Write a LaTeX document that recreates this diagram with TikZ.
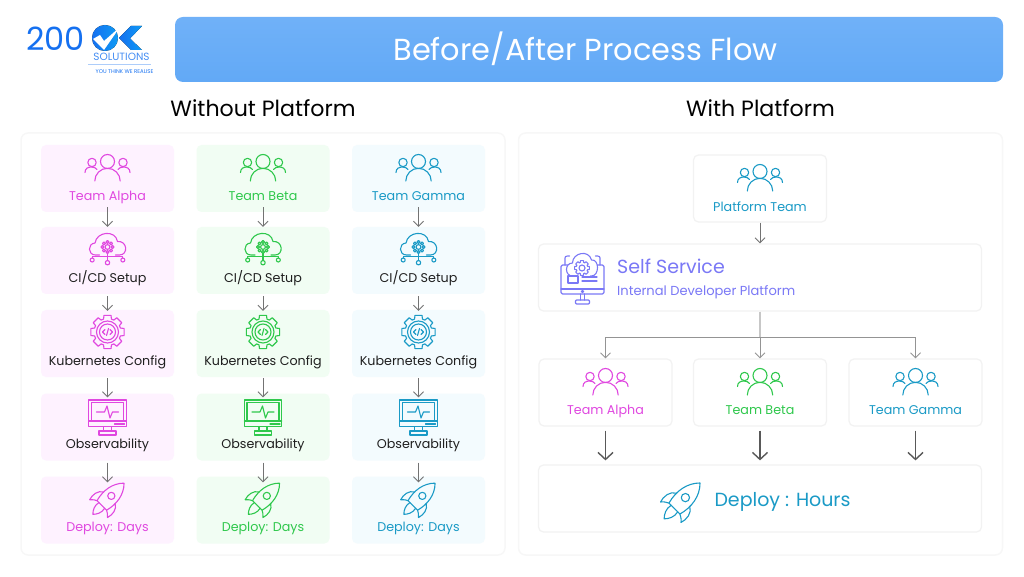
\documentclass[tikz,border=0pt]{standalone}
\usepackage{fontspec}
\setmainfont{Poppins}
\usetikzlibrary{calc, arrows.meta}
\definecolor{alphaclr}{HTML}{E048E0}
\definecolor{betaclr}{HTML}{2FC84C}
\definecolor{gammaclr}{HTML}{1A9AC6}
\definecolor{selfclr}{HTML}{7A78F6}
\definecolor{alphabg}{HTML}{FEF2FF}
\definecolor{betabg}{HTML}{F1FDF3}
\definecolor{gammabg}{HTML}{F3FBFE}
\definecolor{logoclr}{HTML}{1570F0}
\definecolor{headtop}{HTML}{70B1F8}
\definecolor{headbot}{HTML}{62A9F6}
\tikzset{
    panel/.style={draw=black!3, line width=1.5pt, fill=white, rounded corners=7pt, minimum width=484pt, minimum height=422pt},
    stepbox/.style={rounded corners=5pt, minimum width=133pt, minimum height=67pt},
    whitebox/.style={stepbox, draw=black!5, line width=1.2pt, fill=white},
    lbl/.style={font=\fontsize{12.7}{15}\selectfont, inner sep=0pt, text height=9pt, text depth=3pt},
    flow/.style={draw=black!55, line width=0.9pt, -{Straight Barb[length=5pt,width=10pt]}},
    fork/.style={draw=black!42},
    bigflow/.style={draw=black!65, line width=1.4pt, shorten <=4pt, shorten >=4pt, -{Straight Barb[length=7pt,width=15pt]}},
    icon/.style={line width=1.1pt, line join=round, line cap=round},
    pics/peopleicon/.style={code={
        \draw[icon, pic actions] (0,17) circle (7);
        \draw[icon, pic actions] (-12.7,-2.5) arc (180:0:12.7);
        \foreach \s in {-1,1} {
            \draw[icon, pic actions] (\s*15.5,16) circle (4.2);
            \draw[icon, pic actions] (\s*22.5,6) .. controls (\s*22.5,10) and (\s*19.5,11.5) .. (\s*16,11.5) .. controls (\s*13.5,11.5) and (\s*11.5,10.5) .. (\s*10.5,9);
        }
    }},
    pics/cloudicon/.style={code={
        \draw[icon, pic actions] (-8,5.5) -- (-12,5.5) .. controls (-20,5.5) and (-20,17) .. (-12.5,17.5) .. controls (-11,29) and (8,31) .. (10,19) .. controls (20,20) and (21,5.5) .. (12,5.5) -- (8,5.5);
        \draw[icon, pic actions] (0,13.5) circle (2.4);
        \foreach \a in {0,45,...,315}
            \draw[icon, pic actions] ($(0,13.5)+(\a:5)$) circle (1.5);
        \draw[icon, pic actions] (0,7) -- (0,0);
        \draw[icon, pic actions] (0,-2.2) circle (2.2);
        \draw[icon, pic actions] (-15.3,2.5) -- (-15.3,3.8) -- (15.3,3.8) -- (15.3,2.5);
        \draw[icon, pic actions] (-15.3,0.5) circle (2);
        \draw[icon, pic actions] (15.3,0.5) circle (2);
    }},
    pics/gearicon/.style={code={
        \draw[icon, pic actions, shift={(0,11.5)}] (-12:17) \foreach \a in {0,45,...,315} { -- (\a-12:17) -- (\a+12:17) -- (\a+17:13.5) -- (\a+28:13.5) } -- cycle;
        \draw[icon, pic actions] (0,11.5) circle (11);
        \draw[icon, pic actions] (0,11.5) circle (8);
        \draw[icon, pic actions] (-2.5,14) -- (-5,11.5) -- (-2.5,9);
        \draw[icon, pic actions] (2.5,14) -- (5,11.5) -- (2.5,9);
        \draw[icon, pic actions] (1,15) -- (-1,8);
    }},
    pics/monitoricon/.style={code={
        \draw[icon, pic actions] (-18.7,0.3) rectangle (18.7,27);
        \draw[icon, pic actions] (-16,6) rectangle (16,24.5);
        \draw[icon, pic actions] (-18.7,6) -- (-16,6) (16,6) -- (18.7,6);
        \draw[icon, pic actions] (7,3) -- (17,3);
        \draw[icon, pic actions] (-11,15) -- (-3,15) -- (-0.5,21) -- (2.5,9) -- (5,15) -- (11,15);
        \draw[icon, pic actions] (-4,0.3) -- (-4,-4) (4,0.3) -- (4,-4);
        \draw[icon, pic actions] (-8.5,-4) rectangle (8.5,-8);
    }},
    pics/rocketicon/.style={code={
        \begin{scope}[rotate=-45, scale=0.9]
            \draw[icon, pic actions] (0,26) .. controls (9,17) and (11,4) .. (7.5,-9) -- (-7.5,-9) .. controls (-11,4) and (-9,17) .. (0,26);
            \draw[icon, pic actions] (0,6) circle (4);
            \draw[icon, pic actions] (-9,3) .. controls (-15,0) and (-16,-8) .. (-14,-14) .. controls (-12,-11) and (-9,-10) .. (-7.5,-9);
            \draw[icon, pic actions] (9,3) .. controls (15,0) and (16,-8) .. (14,-14) .. controls (12,-11) and (9,-10) .. (7.5,-9);
            \draw[icon, pic actions] (-4.5,-9) .. controls (-6,-15) and (-3,-20) .. (0,-23) .. controls (3,-20) and (6,-15) .. (4.5,-9);
        \end{scope}
    }},
    pics/selficon/.style={code={
        \draw[icon, pic actions] (-17.5,13) -- (-17.5,20) .. controls (-17.5,21) and (-17,22) .. (-15,22) -- (-13,22);
        \draw[icon, pic actions] (17.5,13) -- (17.5,20) .. controls (17.5,21) and (17,22) .. (15,22) -- (13,22);
        \draw[icon, pic actions, rounded corners=1.5pt] (-21.5,13) rectangle (21.5,-16);
        \draw[icon, pic actions] (-21.5,-11) -- (21.5,-11);
        \draw[icon, pic actions] (0,-13.5) circle (1.2);
        \draw[icon, pic actions] (-2,-16) -- (-2,-22) (2,-16) -- (2,-22);
        \draw[icon, pic actions, rounded corners=1pt] (-7,-22) rectangle (7,-26);
        \draw[icon, pic actions, fill=white] (-8,2) -- (-10,2) .. controls (-18,2) and (-18,15) .. (-10,15) .. controls (-10,25) and (6,29) .. (9,18) .. controls (17,19) and (17,2) .. (9,2) -- (8,2);
        \draw[icon, pic actions, shift={(-0.5,10)}] (-12:7.5) \foreach \a in {0,45,...,315} { -- (\a-12:7.5) -- (\a+12:7.5) -- (\a+17:5.8) -- (\a+28:5.8) } -- cycle;
        \draw[icon, pic actions] (-0.5,10) circle (3);
        \draw[icon, pic actions] (-14.5,2) rectangle (-4.5,-5);
        \draw[icon, pic actions] (-0.5,1) -- (14.5,1) (-0.5,-3) -- (14.5,-3);
    }},
}
\begin{document}
\begin{tikzpicture}[x=1pt, y=1pt]
    \useasboundingbox (0,0) rectangle (1024,576);

    \fill[left color=logoclr, right color=logoclr!70!cyan] (105,538) circle (13);
    \fill[white] (93,537) -- (104,526) -- (120,549) -- (104,535) -- (100,541) -- cycle;
    \fill[left color=logoclr, right color=logoclr!70!cyan] (131,550) -- (142,550) -- (130,537.5) -- (142,526) -- (131,526) -- (119,538) -- cycle;
    \node[inner sep=0pt, text=logoclr, font=\fontsize{32}{32}\selectfont] (logonum) at (55.5,537) {200};
    \node[inner sep=0pt, text=logoclr!80!white, font=\fontsize{10.5}{11}\selectfont] (logosol) at (121.5,519) {SOLUTIONS};
    \fill[logoclr!35] (88,511) rectangle (151,511.6);
    \node[inner sep=0pt, text=logoclr, font=\fontsize{5.4}{6}\selectfont] (logotag) at (124.5,504) {YOU THINK WE REALISE};

    \node[rounded corners=8pt, minimum width=828pt, minimum height=65pt, top color=headtop, bottom color=headbot] (header) at (589,526.5) {};
    \node[inner sep=0pt, text=white, font=\fontsize{30.4}{34}\selectfont] (headertxt) at (585.5,527) {Before/After Process Flow};
    \node[inner sep=0pt, text=black, font=\fontsize{22.1}{26}\selectfont] (leftttl) at (263,468) {Without Platform};
    \node[inner sep=0pt, text=black, font=\fontsize{22.1}{26}\selectfont] (rightttl) at (760.5,468) {With Platform};

    \node[panel] (leftpanel) at (263,232) {};
    \node[panel] (rightpanel) at (760.5,232) {};

    \foreach \t/\cx/\lbltxt in {alpha/107.5/Team Alpha, beta/263/Team Beta, gamma/418.5/Team Gamma} {
        \node[stepbox, fill=\t bg] (\t-team) at (\cx,397.5) {};
        \node[stepbox, fill=\t bg] (\t-ci) at (\cx,315.5) {};
        \node[stepbox, fill=\t bg] (\t-kube) at (\cx,232.5) {};
        \node[stepbox, fill=\t bg] (\t-obs) at (\cx,149) {};
        \node[stepbox, fill=\t bg] (\t-dep) at (\cx,66) {};
        \pic[draw=\t clr] at (\t-team.center) {peopleicon};
        \pic[draw=\t clr] at (\t-ci.center) {cloudicon};
        \pic[draw=\t clr] at (\t-kube.center) {gearicon};
        \pic[draw=\t clr] at (\t-obs.center) {monitoricon};
        \pic[draw=\t clr] at ([yshift=10.3pt]\t-dep.center) {rocketicon};
        \node[lbl, text=\t clr] (\t-teamtxt) at ([yshift=-18.8pt]\t-team.center) {\lbltxt};
        \node[lbl, text=black!88] (\t-citxt) at ([yshift=-18.8pt]\t-ci.center) {CI/CD Setup};
        \node[lbl, text=black!88] (\t-kubetxt) at ([yshift=-18.8pt]\t-kube.center) {Kubernetes Config};
        \node[lbl, text=black!88] (\t-obstxt) at ([yshift=-18.8pt]\t-obs.center) {Observability};
        \node[lbl, text=\t clr] (\t-deptxt) at ([yshift=-18.8pt]\t-dep.center) {Deploy: Days};
        \foreach \a/\b/\s/\e in {team/ci/-5/0, ci/kube/2/-1, kube/obs/1/-4, obs/dep/2/-6}
            \draw[flow, shorten <=\s pt, shorten >=\e pt] (\t-\a.south) -- (\t-\b.north);
    }

    \node[whitebox] (platform) at (760,387.5) {};
    \pic[draw=gammaclr] at (platform.center) {peopleicon};
    \node[lbl, text=gammaclr] (platformtxt) at ([yshift=-20pt]platform.center) {Platform Team};

    \node[whitebox, minimum width=443pt] (self) at (760,298.5) {};
    \pic[draw=selfclr] at (582.5,298) {selficon};
    \node[inner sep=0pt, anchor=west, text=selfclr, font=\fontsize{19}{22}\selectfont] (selftxt) at (617,310) {Self Service};
    \node[lbl, anchor=west, text=selfclr, font=\fontsize{13.05}{15}\selectfont] (selfsub) at (617,283) {Internal Developer Platform};

    \node[whitebox] (alpha) at (605.5,183.5) {};
    \node[whitebox] (beta) at (760,183.5) {};
    \node[whitebox] (gamma) at (915.5,183.5) {};
    \foreach \t/\lbltxt in {alpha/Team Alpha, beta/Team Beta, gamma/Team Gamma} {
        \pic[draw=\t clr] at (\t.center) {peopleicon};
        \node[lbl, text=\t clr] (\t txt) at ([yshift=-18.5pt]\t.center) {\lbltxt};
    }

    \node[whitebox, minimum width=443pt] (deploy) at (760,77.5) {};
    \pic[draw=gammaclr, scale=1.15] at (681,74) {rocketicon};
    \node[inner sep=0pt, text height=13pt, text depth=4pt, text=gammaclr, font=\fontsize{19}{22}\selectfont] (deploytxt) at (782.5,74) {Deploy : Hours};

    \coordinate (forkpt) at (760,238.5);
    \draw[flow] (platform.south) -- (self.north);
    \draw[draw=black!22, line width=1.5pt] (self.south) -- (forkpt);
    \draw[flow, fork] (forkpt) -| (alpha.north);
    \draw[flow, fork] (forkpt) -- (beta.north);
    \draw[flow, fork] (forkpt) -| (gamma.north);
    \draw[bigflow] (alpha.south) -- (alpha.south |- deploy.north);
    \draw[bigflow] (beta.south) -- (beta.south |- deploy.north);
    \draw[bigflow] (gamma.south) -- (gamma.south |- deploy.north);
\end{tikzpicture}
\end{document}
